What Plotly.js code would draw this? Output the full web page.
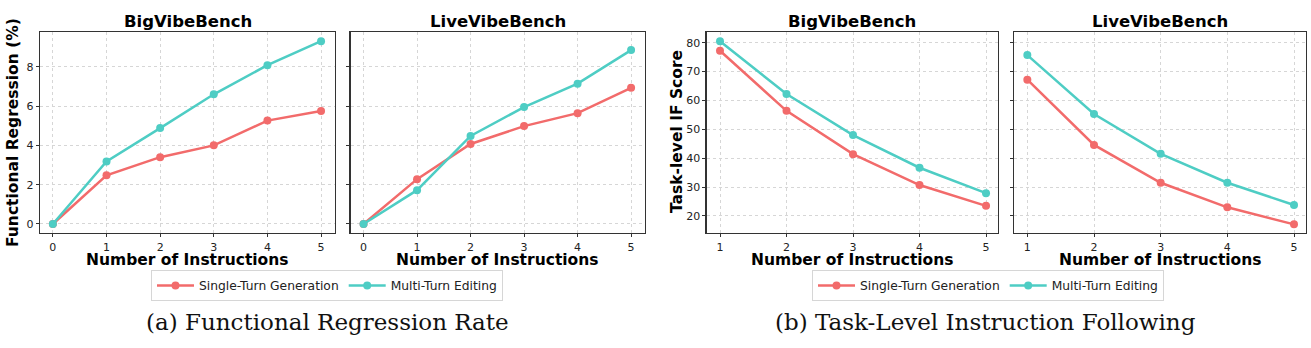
<!DOCTYPE html>
<html><head><meta charset="utf-8">
<script src="https://cdn.plot.ly/plotly-3.0.1.min.js"></script>
<style>html,body{margin:0;padding:0;background:#fff}#c{width:1311px;height:348px}</style>
</head><body><div id="c"></div>
<script>
const xFR = [0, 1, 2, 3, 4, 5];
const xIF = [1, 2, 3, 4, 5];
const bigFR_single = [0, 2.48, 3.4, 4.0, 5.26, 5.75];
const bigFR_multi = [0, 3.18, 4.88, 6.6, 8.08, 9.3];
const liveFR_single = [0, 2.28, 4.07, 4.98, 5.64, 6.93];
const liveFR_multi = [0, 1.72, 4.48, 5.95, 7.14, 8.85];
const bigIF_single = [77.2, 56.4, 41.4, 30.7, 23.5];
const bigIF_multi = [80.5, 62.2, 48.0, 36.7, 27.9];
const liveIF_single = [67.2, 44.6, 31.5, 23.0, 17.1];
const liveIF_multi = [75.7, 55.3, 41.5, 31.5, 23.8];
const seriesNames = ["Single-Turn Generation", "Multi-Turn Editing"];
const panelTitles = ["BigVibeBench", "LiveVibeBench", "BigVibeBench", "LiveVibeBench"];
const xTitle = "Number of Instructions";
const yTitles = ["Functional Regression (%)", "Task-level IF Score"];
const captions = ["(a) Functional Regression Rate", "(b) Task-Level Instruction Following"];

const RED = "#F26B6B", TEAL = "#4ECDC4";
const W = 1311, H = 348;
function tr(x, y, name, color, xa, ya, show, leg) {
  return {x: x, y: y, name: name, type: "scatter", mode: "lines+markers",
    line: {color: color, width: 2.5}, marker: {color: color, size: 8},
    xaxis: xa, yaxis: ya, showlegend: show, legend: leg};
}
const data = [
  tr(xFR, bigFR_single, seriesNames[0], RED, "x", "y", true, "legend"),
  tr(xFR, bigFR_multi, seriesNames[1], TEAL, "x", "y", true, "legend"),
  tr(xFR, liveFR_single, seriesNames[0], RED, "x2", "y2", false, "legend"),
  tr(xFR, liveFR_multi, seriesNames[1], TEAL, "x2", "y2", false, "legend"),
  tr(xIF, bigIF_single, seriesNames[0], RED, "x3", "y3", true, "legend2"),
  tr(xIF, bigIF_multi, seriesNames[1], TEAL, "x3", "y3", true, "legend2"),
  tr(xIF, liveIF_single, seriesNames[0], RED, "x4", "y4", false, "legend2"),
  tr(xIF, liveIF_multi, seriesNames[1], TEAL, "x4", "y4", false, "legend2")
];
const px = v => v / W, py = v => 1 - v / H;
const panels = [[40, 335], [350.7, 645], [706.7, 998], [1014, 1306]];
const yDom = [py(233), py(32)];
const tickFont = {family: "DejaVu Sans", size: 11, color: "#222"};
const common = {showline: true, mirror: true, linecolor: "#333", linewidth: 1.3, ticks: "outside", ticklen: 3,
  tickcolor: "#333", showgrid: true, gridcolor: "#d6d6d6", griddash: "dot", gridwidth: 1, zeroline: false,
  tickfont: tickFont, fixedrange: true};
function xax(dom, range, dtick, anchor) {
  return Object.assign({domain: [px(dom[0]), px(dom[1])], range: range, dtick: dtick, tick0: 0, anchor: anchor}, common);
}
function yax(range, dtick, anchor, labels) {
  return Object.assign({domain: yDom, range: range, dtick: dtick, tick0: 0, anchor: anchor, showticklabels: labels}, common);
}
const frR = [-0.46, 9.77], ifR = [14.1, 83.7];
const ann = [];
panels.forEach((p, i) => {
  const cx = px((p[0] + p[1]) / 2);
  ann.push({xref: "paper", yref: "paper", x: cx, y: py(22), text: "<b>" + panelTitles[i] + "</b>", showarrow: false,
    xanchor: "center", yanchor: "middle", font: {family: "DejaVu Sans", size: 16.5, color: "#000"}});
  ann.push({xref: "paper", yref: "paper", x: cx, y: py(260), text: "<b>" + xTitle + "</b>", showarrow: false,
    xanchor: "center", yanchor: "middle", font: {family: "DejaVu Sans", size: 15.5, color: "#000"}});
});
ann.push({xref: "paper", yref: "paper", x: px(13), y: py(133), text: "<b>" + yTitles[0] + "</b>", textangle: -90, showarrow: false,
  xanchor: "center", yanchor: "middle", font: {family: "DejaVu Sans", size: 15.5, color: "#000"}});
ann.push({xref: "paper", yref: "paper", x: px(677), y: py(132), text: "<b>" + yTitles[1] + "</b>", textangle: -90, showarrow: false,
  xanchor: "center", yanchor: "middle", font: {family: "DejaVu Sans", size: 15.5, color: "#000"}});
ann.push({xref: "paper", yref: "paper", x: px(327), y: py(322), text: captions[0], showarrow: false,
  xanchor: "center", yanchor: "middle", font: {family: "DejaVu Serif", size: 23, color: "#111"}});
ann.push({xref: "paper", yref: "paper", x: px(985), y: py(322), text: captions[1], showarrow: false,
  xanchor: "center", yanchor: "middle", font: {family: "DejaVu Serif", size: 23, color: "#111"}});
const legCommon = {orientation: "h", xanchor: "center", yanchor: "top", y: py(270), itemwidth: 37,
  bgcolor: "#fff", bordercolor: "#d6d6d6", borderwidth: 1, font: {family: "DejaVu Sans", size: 12.3, color: "#222"}};
const layout = {
  width: W, height: H, margin: {l: 0, r: 0, t: 0, b: 0}, paper_bgcolor: "#fff", plot_bgcolor: "#fff",
  xaxis: xax(panels[0], [-0.24, 5.26], 1, "y"),
  yaxis: yax(frR, 2, "x", true),
  xaxis2: xax(panels[1], [-0.24, 5.26], 1, "y2"),
  yaxis2: yax(frR, 2, "x2", false),
  xaxis3: xax(panels[2], [0.8, 5.18], 1, "y3"),
  yaxis3: yax(ifR, 10, "x3", true),
  xaxis4: xax(panels[3], [0.8, 5.18], 1, "y4"),
  yaxis4: yax(ifR, 10, "x4", false),
  legend: Object.assign({}, legCommon, {x: px(327)}),
  legend2: Object.assign({}, legCommon, {x: px(988)}),
  annotations: ann, showlegend: true
};
Plotly.newPlot("c", data, layout, {staticPlot: true, displayModeBar: false});
</script></body></html>
